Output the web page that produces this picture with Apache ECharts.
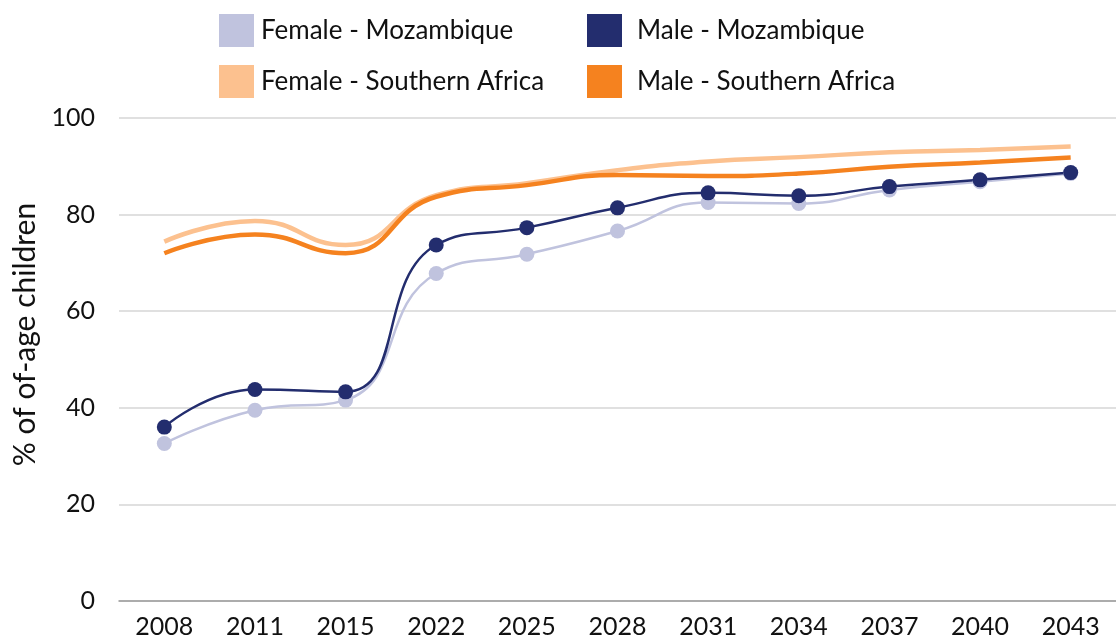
<!DOCTYPE html>
<html><head><meta charset="utf-8">
<script src="https://cdn.jsdelivr.net/npm/echarts@6/dist/echarts.min.js"></script>
<style>html,body{margin:0;padding:0;background:#fff}#c{width:1116px;height:639px}</style>
</head><body><div id="c"></div>
<script>
const years = ['2008','2011','2015','2022','2025','2028','2031','2034','2037','2040','2043'];
const femaleMoz = [32.6, 39.5, 41.6, 67.8, 71.8, 76.6, 82.5, 82.3, 85.1, 86.8, 88.5];
const maleMoz   = [36.0, 43.8, 43.3, 73.7, 77.3, 81.4, 84.5, 83.9, 85.8, 87.2, 88.7];
const femaleSA  = [74.4, 78.7, 73.7, 84.0, 86.5, 89.2, 91.0, 91.9, 92.9, 93.4, 94.1];
const maleSA    = [72.0, 75.9, 72.0, 83.7, 86.1, 88.2, 88.0, 88.5, 89.9, 90.8, 91.8];
const yTicks = [0, 20, 40, 60, 80, 100];

const FONT = 'Lato';
const chart = echarts.init(document.getElementById('c'));
const txt = {fontFamily: FONT, fontSize: 25, color: '#111'};
const legTxt = {fontFamily: FONT, fontSize: 26, color: '#111'};
chart.setOption({
  animation: false,
  legend: [
    {left: 219, top: 14, padding: 0, orient: 'vertical', itemWidth: 35, itemHeight: 33, itemGap: 18,
     icon: 'rect', textStyle: Object.assign({}, legTxt, {padding: [0,0,0,2]}),
     data: ['Female - Mozambique', 'Female - Southern Africa']},
    {left: 587, top: 14, padding: 0, orient: 'vertical', itemWidth: 35, itemHeight: 33, itemGap: 18,
     icon: 'rect', textStyle: Object.assign({}, legTxt, {padding: [0,0,0,10]}),
     data: ['Male - Mozambique', 'Male - Southern Africa']}
  ],
  grid: {left: 119, top: 118, height: 483, width: 1009, containLabel: false},
  xAxis: {
    type: 'category', data: years, boundaryGap: true,
    axisLine: {lineStyle: {color: '#9a9a9a', width: 1.5}},
    axisTick: {show: false},
    axisLabel: Object.assign({}, txt, {margin: 13, interval: 0})
  },
  yAxis: {
    type: 'value', min: yTicks[0], max: yTicks[yTicks.length-1], interval: 20,
    name: '% of of-age children', nameLocation: 'middle', nameGap: 68,
    nameTextStyle: Object.assign({}, txt, {fontSize: 30, padding: [0,0,0,50]}),
    axisLine: {show: false}, axisTick: {show: false},
    axisLabel: Object.assign({}, txt, {margin: 24}),
    splitLine: {lineStyle: {color: '#d6d6d6', width: 1.5}}
  },
  series: [
    {name: 'Female - Mozambique', type: 'line', data: femaleMoz, smooth: 0.5,
     symbol: 'circle', symbolSize: 15, color: '#c0c3de',
     lineStyle: {width: 2.5, color: '#c0c3de'}, itemStyle: {color: '#c0c3de'}},
    {name: 'Male - Mozambique', type: 'line', data: maleMoz, smooth: 0.5,
     symbol: 'circle', symbolSize: 15, color: '#232d6e',
     lineStyle: {width: 2.5, color: '#232d6e'}, itemStyle: {color: '#232d6e'}},
    {name: 'Female - Southern Africa', type: 'line', data: femaleSA, smooth: 0.5,
     showSymbol: false, symbol: 'none', color: '#fcc18f',
     lineStyle: {width: 4.5, color: '#fcc18f'}, itemStyle: {color: '#fcc18f'}},
    {name: 'Male - Southern Africa', type: 'line', data: maleSA, smooth: 0.5,
     showSymbol: false, symbol: 'none', color: '#f5821f',
     lineStyle: {width: 4.5, color: '#f5821f'}, itemStyle: {color: '#f5821f'}}
  ]
});
</script></body></html>
